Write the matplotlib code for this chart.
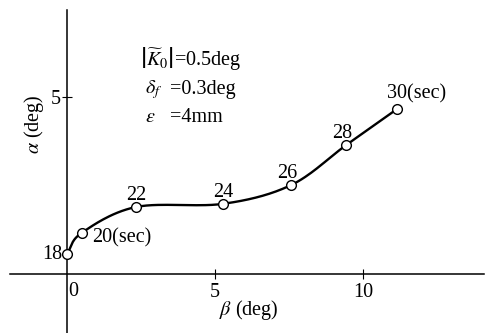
import numpy as np
import matplotlib.pyplot as plt

plt.rcParams['font.family'] = ['Liberation Serif', 'DejaVu Serif']
plt.rcParams['mathtext.fontset'] = 'stix'

# data
times = [18, 20, 22, 24, 26, 28, 30]
beta = [0.0, 0.5, 2.33, 5.27, 7.57, 9.43, 11.15]
alpha = [0.56, 1.16, 1.89, 1.98, 2.51, 3.64, 4.66]
point_labels = ['18', '20(sec)', '22', '24', '26', '28', '30(sec)']


def catmull_rom(xs, ys, n=30):
    # smooth curve through the measured points
    px = np.concatenate([[2 * xs[0] - xs[1]], xs, [2 * xs[-1] - xs[-2]]])
    py = np.concatenate([[2 * ys[0] - ys[1]], ys, [2 * ys[-1] - ys[-2]]])
    out_x, out_y = [], []
    s = np.linspace(0, 1, n)
    for i in range(1, len(px) - 2):
        for p, out in ((px, out_x), (py, out_y)):
            p0, p1, p2, p3 = p[i - 1], p[i], p[i + 1], p[i + 2]
            out.extend(0.5 * (2 * p1 + (-p0 + p2) * s
                              + (2 * p0 - 5 * p1 + 4 * p2 - p3) * s ** 2
                              + (-p0 + 3 * p1 - 3 * p2 + p3) * s ** 3))
    return np.array(out_x), np.array(out_y)


fs = 14.5
fig = plt.figure(figsize=(4.88, 3.33), dpi=100)
ax = fig.add_axes([0, 0, 1, 1])
ax.set_xlim(-2.26, 14.22)
ax.set_ylim(-1.67, 7.74)

for side in ['top', 'right']:
    ax.spines[side].set_visible(False)
ax.spines['left'].set_position(('data', 0))
ax.spines['bottom'].set_position(('data', 0))
ax.spines['left'].set_bounds(-1.67, 7.46)
ax.spines['bottom'].set_bounds(-1.93, 14.1)
for sp in ['left', 'bottom']:
    ax.spines[sp].set_linewidth(1.1)

ax.set_xticks([5, 10])
ax.set_xticklabels(['5', '10'])
ax.set_yticks([5])
ax.set_yticklabels(['5'])
ax.tick_params(direction='inout', length=7, width=0.8, labelsize=fs)
ax.tick_params(axis='x', pad=3)
ax.tick_params(axis='y', pad=1)
ax.text(0.03, -0.22, '0', fontsize=fs, ha='left', va='top')

cx, cy = catmull_rom(np.array(beta), np.array(alpha))
ax.plot(cx, cy, color='black', lw=1.7, zorder=2)
ax.plot(beta, alpha, 'o', ms=7, mfc='white', mec='black', mew=1.0, zorder=3)

offsets = [(-0.17, 0.0, 'right', 'center'),
           (0.34, -0.14, 'left', 'center'),
           (0.0, 0.2, 'center', 'baseline'),
           (0.0, 0.2, 'center', 'baseline'),
           (-0.14, 0.2, 'center', 'baseline'),
           (-0.14, 0.2, 'center', 'baseline'),
           (-0.34, 0.31, 'left', 'baseline')]
for bx, ay, lab, (dx, dy, ha, va) in zip(beta, alpha, point_labels, offsets):
    ax.text(bx + dx, ay + dy, lab, fontsize=fs, ha=ha, va=va)

ax.text(2.47, 6.05, r'$\left|\widetilde{K}_0\right|$=0.5deg', fontsize=fs, va='center')
ax.text(2.64, 5.2, r'$\delta_f$', fontsize=fs, va='center')
ax.text(3.48, 5.2, '=0.3deg', fontsize=fs, va='center')
ax.text(2.64, 4.41, r'$\varepsilon$', fontsize=fs, va='center')
ax.text(3.48, 4.41, '=4mm', fontsize=fs, va='center')

ax.text(6.15, -1.02, r'$\beta$ (deg)', fontsize=fs, ha='center', va='center')
ax.text(-1.1, 4.24, r'$\alpha$ (deg)', fontsize=fs, ha='center', va='center',
        rotation=90)

fig.savefig('out.png', dpi=100)
